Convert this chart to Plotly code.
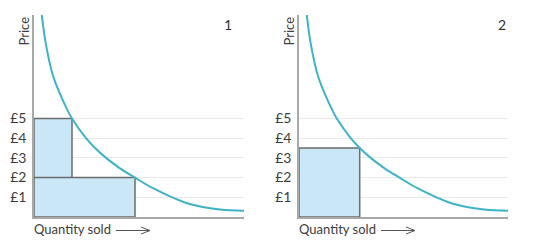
import plotly.graph_objects as go

# ---- data ----
price_ticks = [1, 2, 3, 4, 5]
price_labels = ["£1", "£2", "£3", "£4", "£5"]

# demand curve (quantity, price), same curve in both panels
curve_q = [0.77, 1.17, 1.93, 3.27, 3.80, 5.2, 6.1, 7.2, 8.6, 10.1, 11.9, 15.3, 18.6, 21.0]
curve_p = [10.3, 8.82, 7.12, 5.50, 5.0, 4.0, 3.5, 3.0, 2.47, 2.0, 1.46, 0.70, 0.38, 0.32]

# revenue rectangles: (quantity, price)
panel1_rects = [(3.8, 5.0), (10.1, 2.0)]
panel2_rects = [(6.1, 3.5)]
panel_labels = ["1", "2"]

W, H = 535, 250
CURVE = "#3fb3c6"
FILL = "#c9e7f7"
EDGE = "#6b6b6b"
AXIS = "#a8a8a8"
GRID = "#e9e9e9"
TXT = "#3d3d3d"
FONT = "Lato"

def px(x, y):
    return x / W, 1 - y / H

fig = go.Figure()

panels = [
    dict(rects=panel1_rects, xa="x", ya="y", x0=34, x1=244),
    dict(rects=panel2_rects, xa="x2", ya="y2", x0=299, x1=508),
]

for i, pnl in enumerate(panels):
    for q, p in pnl["rects"]:
        fig.add_trace(go.Scatter(
            x=[0, 0, q, q, 0], y=[0, p, p, 0, 0], mode="lines",
            fill="toself", fillcolor=FILL, line=dict(color=EDGE, width=1.5),
            xaxis=pnl["xa"], yaxis=pnl["ya"], hoverinfo="skip", cliponaxis=False))
    fig.add_trace(go.Scatter(
        x=curve_q, y=curve_p, mode="lines", line=dict(color=CURVE, width=2, shape="spline"),
        xaxis=pnl["xa"], yaxis=pnl["ya"], hoverinfo="skip", cliponaxis=False))

y_dom = [1 - 217 / H, 1 - 15 / H]
common_x = dict(range=[0, 21], showgrid=False, zeroline=False, showticklabels=False,
                showline=True, linecolor=AXIS, linewidth=1.5, ticks="")
common_y = dict(range=[0, 10.25], showgrid=True, gridcolor=GRID, gridwidth=1, zeroline=False,
                tickvals=price_ticks, ticktext=price_labels, ticks="",
                showline=True, linecolor=AXIS, linewidth=1.5,
                tickfont=dict(family=FONT, size=14, color=TXT), ticklabelstandoff=3)

fig.update_layout(
    width=W, height=H, margin=dict(l=0, r=0, t=0, b=0),
    paper_bgcolor="white", plot_bgcolor="white", showlegend=False,
    xaxis=dict(domain=[34 / W, 244 / W], anchor="y", **common_x),
    yaxis=dict(domain=y_dom, anchor="x", **common_y),
    xaxis2=dict(domain=[299 / W, 508 / W], anchor="y2", **common_x),
    yaxis2=dict(domain=y_dom, anchor="x2", **common_y),
)

shapes = []
for i, pnl in enumerate(panels):
    off = pnl["x0"] - 34
    # "Price" label
    fig.add_annotation(x=(23.5 + off) / W, y=1 - 31 / H, xref="paper", yref="paper",
                       text="Price", textangle=-90, showarrow=False,
                       xanchor="center", yanchor="middle",
                       font=dict(family=FONT, size=13, color=TXT))
    # panel number
    nx = 228 if i == 0 else 502
    fig.add_annotation(x=nx / W, y=1 - 25 / H, xref="paper", yref="paper",
                       text=panel_labels[i], showarrow=False,
                       xanchor="center", yanchor="middle",
                       font=dict(family=FONT, size=14, color="#333"))
    # "Quantity sold" label
    fig.add_annotation(x=(32 + off) / W, y=1 - 229 / H, xref="paper", yref="paper",
                       text="Quantity sold", showarrow=False, xanchor="left", yanchor="middle",
                       font=dict(family=FONT, size=13, color=TXT))
    # arrow
    ax0, ax1, ay = 116 + off, 150 + off, 230.5
    a, b = px(ax0, ay)
    c, d = px(ax1, ay)
    e, f = px(ax1 - 9, ay - 3.5)
    g, h = px(ax1 - 9, ay + 3.5)
    shapes.append(dict(type="path", xref="paper", yref="paper",
                       path=f"M {a} {b} L {c} {d} M {e} {f} L {c} {d} L {g} {h}",
                       line=dict(color="#555", width=1)))

fig.update_layout(shapes=shapes)
fig.write_html("out.html")
